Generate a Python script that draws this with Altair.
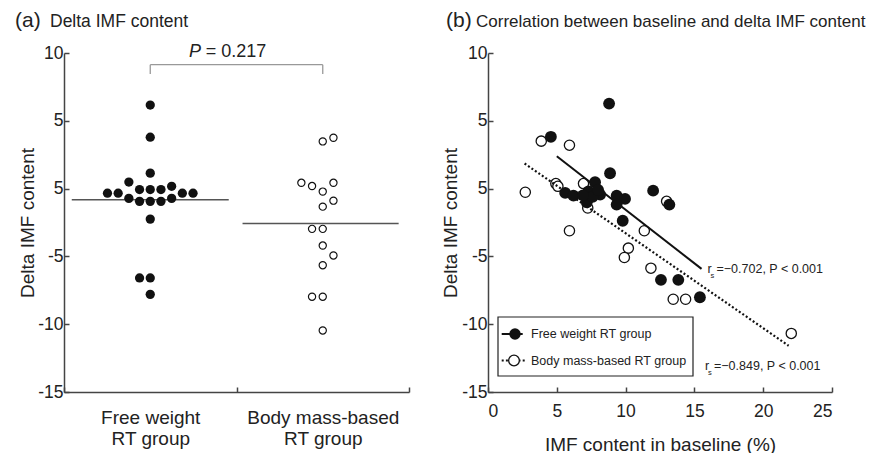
import altair as alt
import pandas as pd

FONT = "Liberation Sans"
AX = "#444444"
TXT = "#222222"
INK = "#111111"

# ---------------- data: panel (a) ----------------
groups = ["Free weight RT group", "Body mass-based RT group"]
group_lines = [["Free weight", "RT group"], ["Body mass-based", "RT group"]]
free_delta_a = [6.16, 3.79, 1.14, 0.48, -0.07, -0.07, -0.07, 0.17, -0.34, -0.34, -0.34,
                -0.34, -0.72, -0.72, -0.94, -0.94, -0.94, -2.25, -6.59, -6.59, -7.8]
free_slot_a = [0, 0, 0, -2, -1, 0, 1, 2, -4, -3, 3, 4, -2, 2, -1, 0, 1, 0, -1, 0, 0]
body_delta_a = [3.48, 3.75, 0.43, 0.19, 0.43, -0.22, -0.89, -1.33, -2.97, -2.97, -4.2,
                -4.93, -5.65, -7.97, -7.97, -10.46]
body_slot_a = [0, 1, -2, -1, 1, 0, 1, 0, -1, 0, 0, 1, 0, -1, 0, 0]
p_text = ["P", "= 0.217"]
bracket_y = [9.14, 8.46]
y_ticks = [-15, -10, -5, 0, 5, 10]

# ---------------- data: panel (b) ----------------
free_base = [8.80, 4.57, 8.87, 7.78, 5.61, 6.21, 7.30, 8.15, 7.18, 7.6, 6.9, 8.0,
             9.35, 9.96, 9.35, 12.0, 13.18, 9.79, 12.57, 13.83, 15.4]
free_delta = [6.27, 3.82, 1.13, 0.47, -0.32, -0.52, -0.20, -0.44, -1.01, -0.6, -0.5, -0.1,
              -0.52, -0.76, -1.18, -0.15, -1.18, -2.37, -6.73, -6.73, -8.01]
body_base = [3.87, 5.92, 2.71, 4.93, 5.08, 6.94, 7.25, 5.92, 11.36, 10.2, 9.91, 11.84,
             12.98, 13.46, 14.36, 22.04]
body_delta = [3.50, 3.20, -0.27, 0.37, 0.17, 0.37, -1.43, -3.11, -3.11, -4.39, -5.08,
              -5.87, -0.94, -8.16, -8.16, -10.68]
fit_free_x = [5.0, 15.52]
fit_free_y = [2.39, -5.92]
fit_body_x = [2.66, 21.85]
fit_body_y = [1.85, -11.59]
x_ticks_b = [0, 5, 10, 15, 20, 25]
stat_text = ["=\u22120.702, P < 0.001", "=\u22120.849, P < 0.001"]

SLOT = 0.062  # horizontal spacing of stacked dots (x units)

W_A, W_B, H = 345, 344, 339


def ax(**kw):
    base = dict(grid=False, domainColor=AX, domainWidth=1.5, tickColor=AX, tickWidth=1.5,
                tickSize={"expr": "-5"}, labelFont=FONT, labelFontSize=17.5, labelColor=TXT,
                titleFont=FONT, titleFontSize=19, titleFontWeight="normal", titleColor=TXT)
    base.update(kw)
    return alt.Axis(**base)


y_label_expr = "datum.value == 0 ? '5' : '' + datum.value"

# ---------------- panel (a) ----------------
rows = []
for gi, (vals, slots) in enumerate([(free_delta_a, free_slot_a), (body_delta_a, body_slot_a)]):
    for v, s in zip(vals, slots):
        rows.append({"g": gi, "x": gi + 0.5 + s * SLOT, "y": v})
df_a = pd.DataFrame(rows)

means = df_a.groupby("g")["y"].mean()
df_mean = pd.DataFrame({"x": [0.045, 1.035], "x2": [0.955, 1.94], "y": list(means.values)})

lab_expr = ("datum.value == 0.5 ? ['%s','%s'] : (datum.value == 1.5 ? ['%s','%s'] : '')"
            % (group_lines[0][0], group_lines[0][1], group_lines[1][0], group_lines[1][1]))
XA = ax(values=[0, 0.5, 1, 1.5, 2], labelExpr=lab_expr, title=None, labelFontSize=19,
        labelLineHeight=21, labelPadding=21,
        tickOpacity={"condition": {"test": "datum.value == 0.5 || datum.value == 1.5", "value": 0},
                     "value": 1})
YA = ax(values=y_ticks, labelExpr=y_label_expr, title="Delta IMF content", labelPadding=6,
        titleX=-31, titleY=H / 2, titleBaseline="alphabetic", titleAngle=270)
xs_a = alt.Scale(domain=[0, 2])
ys = alt.Scale(domain=[-15, 10])

free_a = alt.Chart(df_a[df_a.g == 0]).mark_point(
    shape="circle", filled=True, size=86, color=INK, opacity=1
).encode(x=alt.X("x:Q", scale=xs_a, axis=XA), y=alt.Y("y:Q", scale=ys, axis=YA))
body_a = alt.Chart(df_a[df_a.g == 1]).mark_point(
    shape="circle", filled=True, fill="white", stroke=INK, strokeWidth=1.2, size=52, opacity=1
).encode(x=alt.X("x:Q", scale=xs_a, axis=XA), y=alt.Y("y:Q", scale=ys, axis=YA))
mean_a = alt.Chart(df_mean).mark_rule(color="#555555", strokeWidth=1.5).encode(
    x=alt.X("x:Q", scale=xs_a, axis=XA), x2="x2:Q", y=alt.Y("y:Q", scale=ys, axis=YA))
df_br = pd.DataFrame({"x": [0.5, 0.5, 1.5], "x2": [1.5, 0.5, 1.5],
                      "y": [bracket_y[0]] * 3, "y2": [bracket_y[0], bracket_y[1], bracket_y[1]]})
bracket = alt.Chart(df_br).mark_rule(color="#999999", strokeWidth=1.3).encode(
    x=alt.X("x:Q", scale=xs_a, axis=XA), x2="x2:Q", y=alt.Y("y:Q", scale=ys, axis=YA), y2="y2:Q")
p1 = alt.Chart(pd.DataFrame({"t": [p_text[0]], "x": [0.795], "y": [10.05]})).mark_text(
    font=FONT, fontSize=18, fontStyle="italic", align="right", baseline="middle", color=TXT
).encode(x=alt.X("x:Q", scale=xs_a, axis=XA), y=alt.Y("y:Q", scale=ys, axis=YA), text="t:N")
p2 = alt.Chart(pd.DataFrame({"t": [p_text[1]], "x": [0.822], "y": [10.05]})).mark_text(
    font=FONT, fontSize=18, align="left", baseline="middle", color=TXT
).encode(x=alt.X("x:Q", scale=xs_a, axis=XA), y=alt.Y("y:Q", scale=ys, axis=YA), text="t:N")

title_a1 = alt.Chart(pd.DataFrame({"t": ["(a)"]})).mark_text(
    font=FONT, fontSize=21, align="left", baseline="alphabetic", color=TXT
).encode(x=alt.value(-49), y=alt.value(-26), text="t:N")
title_a2 = alt.Chart(pd.DataFrame({"t": ["Delta IMF content"]})).mark_text(
    font=FONT, fontSize=17.5, align="left", baseline="alphabetic", color=TXT
).encode(x=alt.value(-14), y=alt.value(-26), text="t:N")

left = alt.layer(bracket, mean_a, free_a, body_a, p1, p2, title_a1, title_a2).properties(
    width=W_A, height=H)

# ---------------- panel (b) ----------------
df_fb = pd.DataFrame({"x": free_base, "y": free_delta})
df_bb = pd.DataFrame({"x": body_base, "y": body_delta})
df_ff = pd.DataFrame({"x": fit_free_x, "y": fit_free_y})
df_fbd = pd.DataFrame({"x": fit_body_x, "y": fit_body_y})

xs_b = alt.Scale(domain=[0, 25])
XB = ax(values=x_ticks_b, title="IMF content in baseline (%)", labelPadding=15, titleY=58,
        titleBaseline="alphabetic")
YB = ax(values=y_ticks, labelExpr=y_label_expr, title="Delta IMF content", labelPadding=6,
        titleX=-32, titleY=H / 2, titleBaseline="alphabetic", titleAngle=270)


def enc_b(ch):
    return ch.encode(x=alt.X("x:Q", scale=xs_b, axis=XB), y=alt.Y("y:Q", scale=ys, axis=YB))


open_b = enc_b(alt.Chart(df_bb).mark_point(
    shape="circle", filled=True, fill="white", stroke=INK, strokeWidth=1.3, size=105, opacity=1))
line_free = enc_b(alt.Chart(df_ff).mark_line(color=INK, strokeWidth=2))
line_body = enc_b(alt.Chart(df_fbd).mark_line(color=INK, strokeWidth=2.2, strokeDash=[2, 2.2]))
fill_b = enc_b(alt.Chart(df_fb).mark_point(
    shape="circle", filled=True, size=140, color=INK, opacity=1))

# legend (drawn as marks)
leg_box = alt.Chart(pd.DataFrame({"a": [0]})).mark_rect(
    fill="white", stroke=TXT, strokeWidth=1.2
).encode(x=alt.value(10), x2=alt.value(205), y=alt.value(264), y2=alt.value(323))
leg_l1 = alt.Chart(pd.DataFrame({"a": [0]})).mark_rule(color=INK, strokeWidth=2).encode(
    x=alt.value(13.7), x2=alt.value(34.7), y=alt.value(281))
leg_p1 = alt.Chart(pd.DataFrame({"a": [0]})).mark_point(
    shape="circle", filled=True, size=130, color=INK, opacity=1).encode(
    x=alt.value(27), y=alt.value(281))
leg_l2 = alt.Chart(pd.DataFrame({"a": [0]})).mark_rule(
    color=INK, strokeWidth=2, strokeDash=[2, 2.2]).encode(
    x=alt.value(13.7), x2=alt.value(38), y=alt.value(307.5))
leg_p2 = alt.Chart(pd.DataFrame({"a": [0]})).mark_point(
    shape="circle", filled=True, fill="white", stroke=INK, strokeWidth=1.3, size=115,
    opacity=1).encode(x=alt.value(26), y=alt.value(307.5))
leg_t1 = alt.Chart(pd.DataFrame({"t": [groups[0]]})).mark_text(
    font=FONT, fontSize=12.5, align="left", baseline="middle", color=TXT).encode(
    x=alt.value(43), y=alt.value(281), text="t:N")
leg_t2 = alt.Chart(pd.DataFrame({"t": [groups[1]]})).mark_text(
    font=FONT, fontSize=12.5, align="left", baseline="middle", color=TXT).encode(
    x=alt.value(43), y=alt.value(307.5), text="t:N")


def stat(rx, ry, txt):
    r = alt.Chart(pd.DataFrame({"t": ["r"]})).mark_text(
        font=FONT, fontSize=12.5, align="left", baseline="middle", color=TXT).encode(
        x=alt.value(rx), y=alt.value(ry), text="t:N")
    s = alt.Chart(pd.DataFrame({"t": ["s"]})).mark_text(
        font=FONT, fontSize=7.5, align="left", baseline="middle", color=TXT).encode(
        x=alt.value(rx + 3), y=alt.value(ry + 6.5), text="t:N")
    t = alt.Chart(pd.DataFrame({"t": [txt]})).mark_text(
        font=FONT, fontSize=12.5, align="left", baseline="middle", color=TXT).encode(
        x=alt.value(rx + 9), y=alt.value(ry), text="t:N")
    return [r, s, t]


stats = stat(219.5, 216, stat_text[0]) + stat(217, 313, stat_text[1])

title_b1 = alt.Chart(pd.DataFrame({"t": ["(b)"]})).mark_text(
    font=FONT, fontSize=21, align="left", baseline="alphabetic", color=TXT
).encode(x=alt.value(-42), y=alt.value(-26), text="t:N")
title_b2 = alt.Chart(pd.DataFrame({"t": ["Correlation between baseline and delta IMF content"]})).mark_text(
    font=FONT, fontSize=17, align="left", baseline="alphabetic", color=TXT
).encode(x=alt.value(-12), y=alt.value(-26), text="t:N")

right = alt.layer(open_b, line_free, line_body, fill_b, leg_box, leg_l1, leg_p1, leg_l2,
                  leg_p2, leg_t1, leg_t2, *stats, title_b1, title_b2).properties(
    width=W_B, height=H)

chart = alt.hconcat(left, right, spacing=31).properties(
    padding={"left": 7, "top": 2, "right": 0, "bottom": 0}
).configure_view(stroke=None)

chart.save("out.html", embed_options={"renderer": "svg", "actions": False})
